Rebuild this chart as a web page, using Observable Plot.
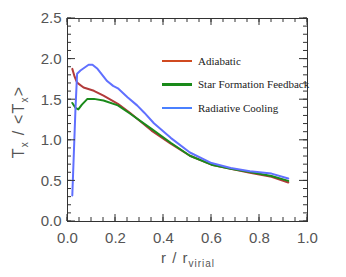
<!DOCTYPE html>
<html><head><meta charset="utf-8">
<script src="https://cdn.jsdelivr.net/npm/d3@7"></script>
<script src="https://cdn.jsdelivr.net/npm/@observablehq/plot@0.6"></script>
<style>
body{margin:0;background:#fff;}
#wrap{position:relative;width:346px;height:277px;}
#legend{position:absolute;left:162px;top:49px;font-family:"Liberation Serif","DejaVu Serif",serif;font-size:11px;color:#222;}
#legend .row{height:23.5px;display:flex;align-items:center;white-space:nowrap;}
#legend .sw{display:inline-block;width:30px;height:2.5px;margin-right:6px;}
</style>
</head><body><div id="wrap"><div id="legend"></div></div>
<script>
const seriesNames = ["Adiabatic", "Star Formation Feedback", "Radiative Cooling"];
const seriesColors = ["#b23a3a", "#1a8a1a", "#6070ff"];
const legendColors = ["#d04a20", "#1a8a1a", "#4a80ff"];

const rAdiabatic = [0.02,0.03,0.04,0.067,0.11,0.15,0.21,0.26,0.35,0.43,0.51,0.60,0.68,0.76,0.85,0.92];
const tAdiabatic = [1.88,1.78,1.71,1.65,1.61,1.55,1.45,1.34,1.12,0.96,0.81,0.70,0.65,0.60,0.55,0.48];

const rStar = [0.02,0.033,0.045,0.06,0.083,0.11,0.15,0.21,0.26,0.35,0.43,0.51,0.60,0.68,0.76,0.85,0.92];
const tStar = [1.46,1.40,1.38,1.44,1.51,1.51,1.49,1.43,1.33,1.14,0.97,0.81,0.70,0.65,0.61,0.56,0.50];

const rCool = [0.02,0.033,0.04,0.054,0.088,0.104,0.125,0.165,0.19,0.21,0.25,0.29,0.32,0.36,0.43,0.51,0.60,0.68,0.76,0.85,0.92];
const tCool = [0.32,1.37,1.82,1.86,1.93,1.93,1.88,1.73,1.67,1.64,1.53,1.43,1.34,1.21,1.03,0.85,0.72,0.66,0.62,0.59,0.53];

const xMajor = [0,0.2,0.4,0.6,0.8,1.0];
const xMinor = d3.range(0, 21).map(i => i/20);
const yMajor = [0,0.5,1.0,1.5,2.0,2.5];
const yMinor = d3.range(0, 26).map(i => i/10);

const rows = [];
[[rAdiabatic,tAdiabatic],[rStar,tStar],[rCool,tCool]].forEach(([rs,ts],k)=>{
  rs.forEach((r,i)=>rows.push({series:seriesNames[k], r, t:ts[i]}));
});

const W = 346, H = 277, ML = 67, MR = 39, MT = 18, MB = 56;
const xDom = [0,1], yDom = [0,2.5];
const axisStyle = {fontSize:15, fill:"#555", fontFamily:"Liberation Sans, Arial, sans-serif", letterSpacing:"1.2px"};
const tickCol = "#333";

const plot = Plot.plot({
  width:W, height:H,
  marginLeft:ML, marginRight:MR, marginTop:MT, marginBottom:MB,
  x:{domain:xDom}, y:{domain:yDom},
  color:{domain:seriesNames, range:seriesColors},
  style:{background:"#fff", overflow:"visible"},
  marks:[
    Plot.frame({stroke:tickCol, strokeWidth:1}),
    Plot.axisX({ticks:xMajor, tickSize:0, tickPadding:11, tickFormat:d3.format(".1f"), label:null, ...axisStyle}),
    Plot.axisY({ticks:yMajor, tickSize:0, tickPadding:6, tickFormat:d3.format(".1f"), label:null, ...axisStyle}),
    Plot.line(rows, {x:"r", y:"t", z:"series", stroke:"series", strokeWidth:2})
  ]
});
document.getElementById("wrap").prepend(plot);

// inward ticks on all four sides, positioned through Plot's own scales
const sx = plot.scale("x"), sy = plot.scale("y");
const [x0, x1] = sx.range, [y0, y1] = sy.range; // y0 bottom, y1 top
const svg = d3.select(plot);
let dPath = "";
const addX = (ticks, len) => ticks.forEach(v => {
  const px = sx.apply(v);
  dPath += `M${px},${y0}v${-len}M${px},${y1}v${len}`;
});
const addY = (ticks, len) => ticks.forEach(v => {
  const py = sy.apply(v);
  dPath += `M${x0},${py}h${len}M${x1},${py}h${-len}`;
});
addX(xMinor, 4); addX(xMajor, 7); addY(yMinor, 4); addY(yMajor, 8);
svg.append("path").attr("d", dPath).attr("fill", "none").attr("stroke", tickCol).attr("stroke-width", 1);

// axis titles with subscripts
const ff = "Liberation Sans, Arial, sans-serif";
const xt = svg.append("text").attr("x",188).attr("y",263).attr("text-anchor","middle")
  .attr("font-family",ff).attr("font-size",15).attr("fill","#555").attr("letter-spacing","1px");
xt.append("tspan").text("r / r");
xt.append("tspan").attr("font-size",10).attr("dy",4).text("virial");

const yt = svg.append("text").attr("transform","translate(24,122) rotate(-90)").attr("text-anchor","middle")
  .attr("font-family",ff).attr("font-size",16).attr("fill","#555").attr("letter-spacing","1.2px");
yt.append("tspan").text("T");
yt.append("tspan").attr("font-size",10).attr("dy",4).text("x");
yt.append("tspan").attr("dy",-4).text(" / <T");
yt.append("tspan").attr("font-size",10).attr("dy",4).text("x");
yt.append("tspan").attr("dy",-4).text(">");

// legend
const lg = document.getElementById("legend");
seriesNames.forEach((n,i)=>{
  const row = document.createElement("div"); row.className="row";
  const sw = document.createElement("span"); sw.className="sw"; sw.style.background=legendColors[i];
  row.appendChild(sw); row.appendChild(document.createTextNode(n));
  lg.appendChild(row);
});
</script></body></html>
